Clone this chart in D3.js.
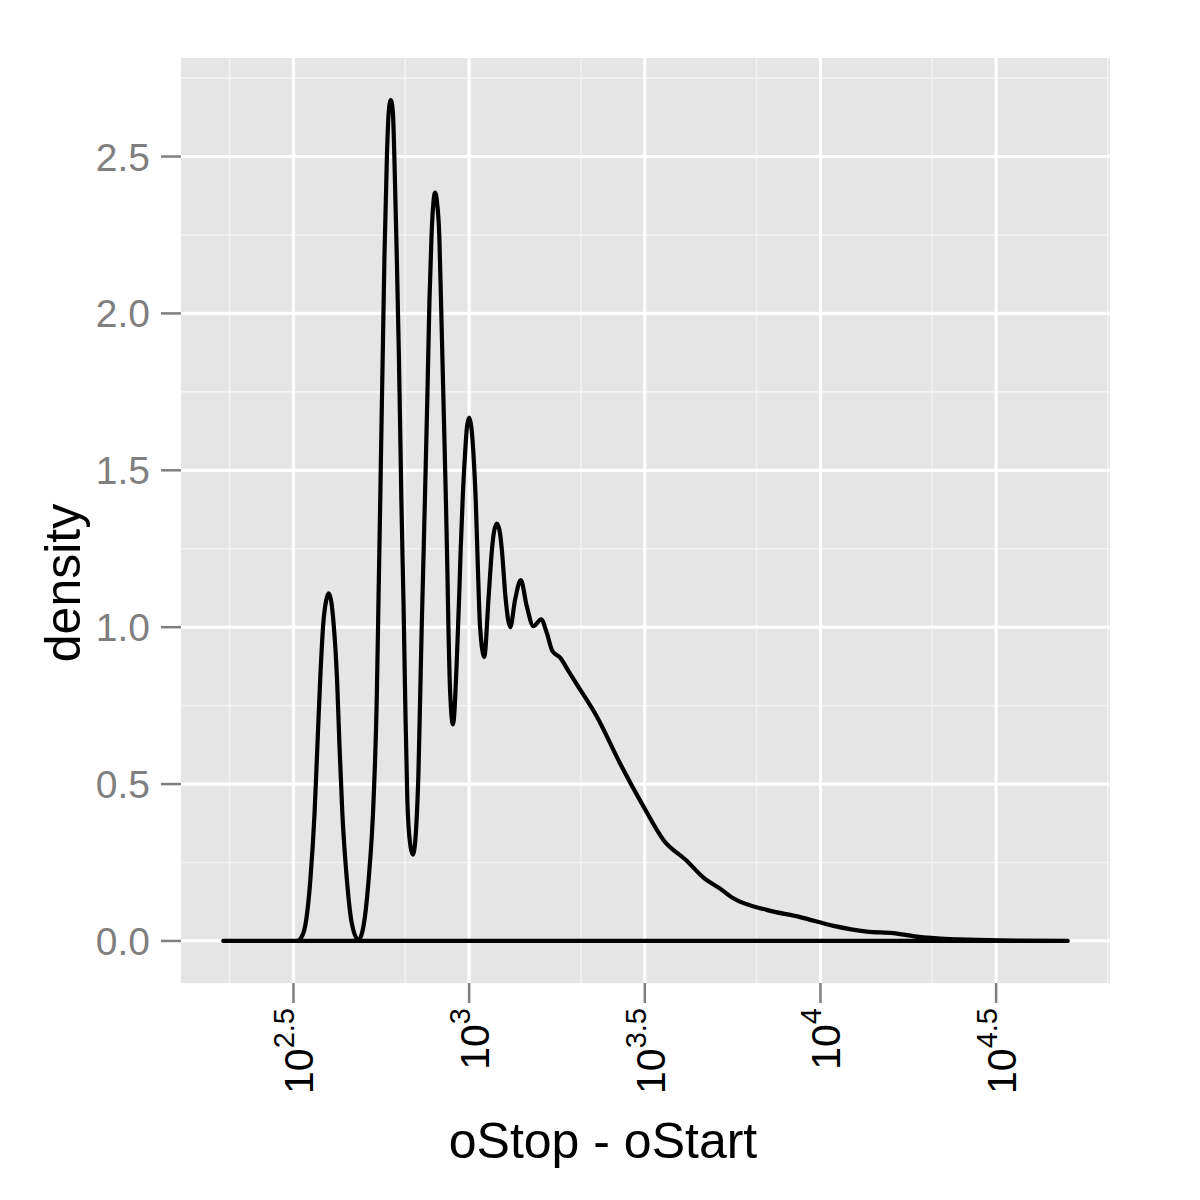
<!DOCTYPE html>
<html>
<head>
<meta charset="utf-8">
<script src="https://cdn.jsdelivr.net/npm/d3@7"></script>
<style>
  html, body { margin: 0; padding: 0; background: #ffffff; }
  svg { display: block; }
  text { font-family: "Liberation Sans", Arial, Helvetica, sans-serif; }
</style>
</head>
<body>
<svg id="chart" width="1200" height="1200"></svg>
<script>
// ---- data (x = log10(oStop - oStart), y = density) ----
const logLength = [
  2.300, 2.510, 2.519, 2.533, 2.548, 2.560, 2.568, 2.576, 2.585, 2.593,
  2.600, 2.607, 2.614, 2.624, 2.631, 2.639, 2.652, 2.666, 2.685, 2.699,
  2.713, 2.728, 2.737, 2.742, 2.747, 2.749, 2.754, 2.759, 2.766, 2.771,
  2.777, 2.783, 2.787, 2.794, 2.800, 2.805, 2.807, 2.813, 2.818, 2.824,
  2.832, 2.840, 2.848, 2.856, 2.861, 2.865, 2.870, 2.875, 2.881, 2.887,
  2.893, 2.898, 2.903, 2.909, 2.915, 2.920, 2.927, 2.934, 2.938, 2.941,
  2.946, 2.954, 2.965, 2.972, 2.976, 2.982, 2.989, 2.994, 3.000, 3.006,
  3.012, 3.019, 3.025, 3.031, 3.043, 3.055, 3.065, 3.071, 3.079, 3.087,
  3.093, 3.104, 3.117, 3.131, 3.147, 3.164, 3.183, 3.205, 3.221, 3.237,
  3.259, 3.283, 3.307, 3.363, 3.430, 3.496, 3.553, 3.620, 3.667, 3.714,
  3.752, 3.847, 3.942, 4.037, 4.132, 4.207, 4.274, 4.369, 4.511, 4.704
];
const density = [
  0.000, 0.000, 0.006, 0.046, 0.195, 0.408, 0.620, 0.833, 1.014, 1.085,
  1.108, 1.085, 1.014, 0.833, 0.620, 0.408, 0.195, 0.056, 0.003, 0.046,
  0.184, 0.450, 0.769, 1.089, 1.408, 1.546, 1.866, 2.185, 2.504, 2.640,
  2.680, 2.640, 2.504, 2.185, 1.866, 1.546, 1.408, 1.089, 0.769, 0.450,
  0.310, 0.275, 0.340, 0.550, 0.800, 1.000, 1.220, 1.450, 1.730, 2.040,
  2.249, 2.350, 2.385, 2.350, 2.249, 2.036, 1.717, 1.397, 1.185, 1.003,
  0.791, 0.690, 0.897, 1.110, 1.250, 1.420, 1.565, 1.640, 1.668, 1.640,
  1.557, 1.397, 1.185, 1.003, 0.905, 1.089, 1.248, 1.305, 1.330, 1.305,
  1.248, 1.089, 1.000, 1.089, 1.150, 1.067, 1.003, 1.025, 0.982, 0.924,
  0.903, 0.860, 0.817, 0.716, 0.565, 0.429, 0.322, 0.255, 0.202, 0.167,
  0.136, 0.099, 0.076, 0.048, 0.030, 0.025, 0.014, 0.006, 0.002, 0.000
];
const xMajorBreaks = [2.5, 3, 3.5, 4, 4.5];
const xTickBase = ["10", "10", "10", "10", "10"];
const xTickExp = ["2.5", "3", "3.5", "4", "4.5"];
const xMinorBreaks = [2.318, 2.818, 3.318, 3.818, 4.318, 4.818];
const yMajorBreaks = [0, 0.5, 1, 1.5, 2, 2.5];
const yTickLabels = ["0.0", "0.5", "1.0", "1.5", "2.0", "2.5"];
const yMinorBreaks = [0.25, 0.75, 1.25, 1.75, 2.25, 2.75];
const xTitle = "oStop - oStart";
const yTitle = "density";

// ---- layout ----
const panel = { left: 181, right: 1110, top: 58, bottom: 983 };
const svg = d3.select("#chart");

const xExt = d3.extent(logLength);
const xPad = (xExt[1] - xExt[0]) * 0.05;
const x = d3.scaleLinear()
  .domain([xExt[0] - xPad, xExt[1] + xPad])
  .range([panel.left, panel.right]);
const yMax = d3.max(density);
const y = d3.scaleLinear()
  .domain([-0.05 * yMax, 1.05 * yMax])
  .range([panel.bottom, panel.top]);

// panel background
svg.append("rect")
  .attr("x", panel.left).attr("y", panel.top)
  .attr("width", panel.right - panel.left)
  .attr("height", panel.bottom - panel.top)
  .attr("fill", "#E5E5E5");

const grid = svg.append("g");
// minor grid
grid.selectAll("line.xminor").data(xMinorBreaks.filter(d => x(d) <= panel.right)).enter()
  .append("line")
  .attr("x1", d => x(d)).attr("x2", d => x(d))
  .attr("y1", panel.top).attr("y2", panel.bottom)
  .attr("stroke", "#F2F2F2").attr("stroke-width", 1.6);
grid.selectAll("line.yminor").data(yMinorBreaks).enter()
  .append("line")
  .attr("y1", d => y(d)).attr("y2", d => y(d))
  .attr("x1", panel.left).attr("x2", panel.right)
  .attr("stroke", "#F2F2F2").attr("stroke-width", 1.6);
// major grid
grid.selectAll("line.xmajor").data(xMajorBreaks).enter()
  .append("line")
  .attr("x1", d => x(d)).attr("x2", d => x(d))
  .attr("y1", panel.top).attr("y2", panel.bottom)
  .attr("stroke", "#FFFFFF").attr("stroke-width", 3.2);
grid.selectAll("line.ymajor").data(yMajorBreaks).enter()
  .append("line")
  .attr("y1", d => y(d)).attr("y2", d => y(d))
  .attr("x1", panel.left).attr("x2", panel.right)
  .attr("stroke", "#FFFFFF").attr("stroke-width", 3.2);

// density outline (closed polygon like geom_density)
const pts = logLength.map((v, i) => [v, density[i]]);
const line = d3.line()
  .x(d => x(d[0]))
  .y(d => y(d[1]))
  .curve(d3.curveMonotoneX);
svg.append("path")
  .attr("d", line(pts) + "Z")
  .attr("fill", "none")
  .attr("stroke", "#000000")
  .attr("stroke-width", 4.2)
  .attr("stroke-linejoin", "round")
  .attr("stroke-linecap", "round");

// y axis ticks and labels
const axisCol = "#7F7F7F";
const yAx = svg.append("g");
yAx.selectAll("line").data(yMajorBreaks).enter().append("line")
  .attr("x1", panel.left - 20).attr("x2", panel.left)
  .attr("y1", d => y(d)).attr("y2", d => y(d))
  .attr("stroke", axisCol).attr("stroke-width", 2.5);
yAx.selectAll("text").data(yMajorBreaks).enter().append("text")
  .attr("x", 150).attr("y", d => y(d)).attr("dy", "0.36em")
  .attr("text-anchor", "end")
  .attr("font-size", 39).attr("fill", axisCol)
  .text((d, i) => yTickLabels[i]);

// x axis ticks and labels
const xAx = svg.append("g");
xAx.selectAll("line").data(xMajorBreaks).enter().append("line")
  .attr("x1", d => x(d)).attr("x2", d => x(d))
  .attr("y1", panel.bottom).attr("y2", panel.bottom + 20)
  .attr("stroke", axisCol).attr("stroke-width", 2.5);
const xl = xAx.selectAll("text").data(xMajorBreaks).enter().append("text")
  .attr("transform", d => `translate(${x(d) + 20},1008) rotate(-90)`)
  .attr("text-anchor", "end")
  .attr("font-size", 41).attr("fill", "#000000");
xl.append("tspan").text((d, i) => xTickBase[i]);
xl.append("tspan").attr("font-size", 29).attr("dy", -19).text((d, i) => xTickExp[i]);

// axis titles
svg.append("text")
  .attr("x", 603).attr("y", 1158)
  .attr("text-anchor", "middle")
  .attr("font-size", 50).attr("fill", "#000000")
  .text(xTitle);
svg.append("text")
  .attr("transform", "translate(80,583) rotate(-90)")
  .attr("text-anchor", "middle")
  .attr("font-size", 50).attr("fill", "#000000")
  .text(yTitle);
</script>
</body>
</html>
